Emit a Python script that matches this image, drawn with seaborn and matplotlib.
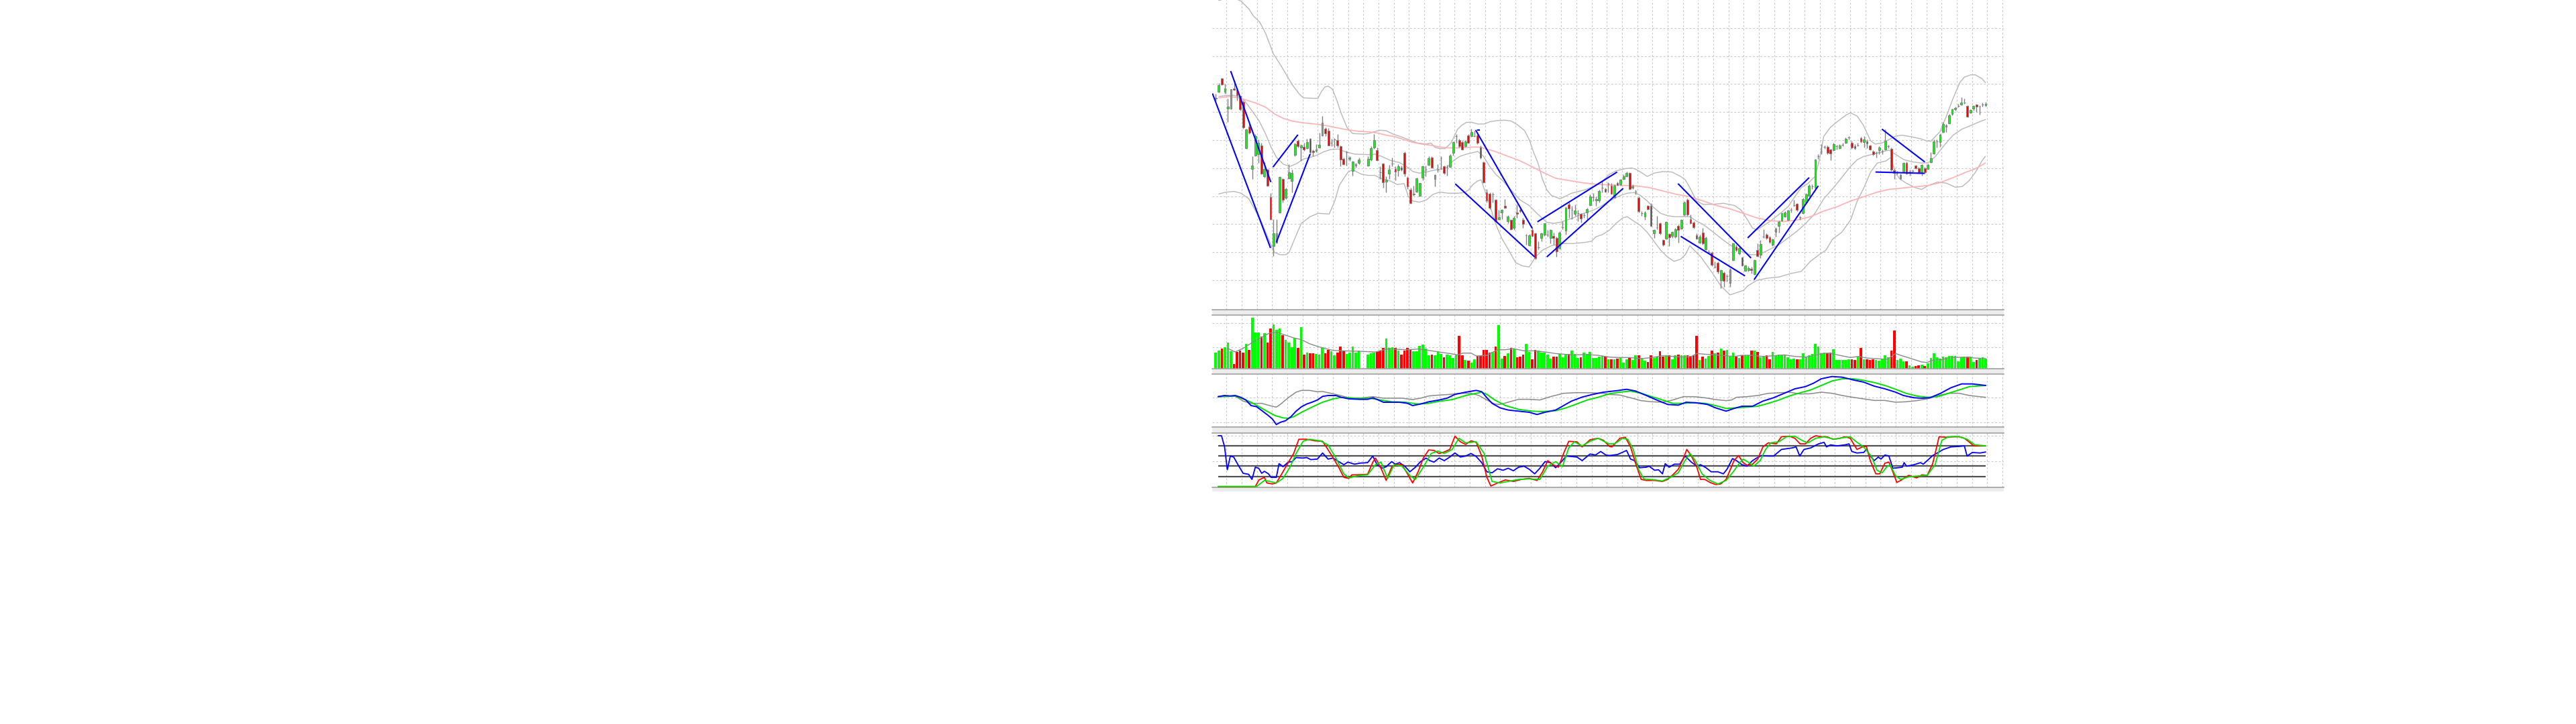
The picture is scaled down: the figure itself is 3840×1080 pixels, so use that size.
import numpy as np
import matplotlib
matplotlib.use("Agg")
import matplotlib.pyplot as plt
import seaborn as sns
from matplotlib.patches import Rectangle

# ---- candles (one per bar, nan = no bar) ----
opens = [
    1.960, 1.988, 2.048, 1.988, 1.914, 1.915, 2.005, 1.997, 1.970, 1.945, 1.738, 1.834,
    1.644, 1.705, 1.710, 1.748, 1.610, 1.640, 1.518, 1.300, 1.315, 1.450, 1.600, 1.515,
    1.603, 1.590, 1.708, 1.770, 1.740, 1.742, 1.738, 1.780, 1.724, 1.725, 1.740, 1.795,
    1.825, 1.815, 1.761, 1.776, 1.772, 1.745, 1.690, 1.718, 1.688, 1.635, 1.660, 1.672,
    np.nan, np.nan, 1.660, 1.685, 1.740, 1.727, 1.630, 1.667, 1.587, 1.622, 1.667, 1.645,
    1.638, 1.650, 1.717, 1.605, 1.552, 1.530, 1.542, 1.524, 1.605, 1.640, 1.663, 1.695,
    1.600, 1.640, 1.692, 1.657, 1.652, 1.652, 1.715, 1.792, 1.773, 1.765, 1.745, 1.793,
    1.792, 1.790, 1.795, 1.740, 1.673, 1.538, 1.532, 1.530, 1.505, 1.418, 1.448, 1.480,
    1.410, 1.415, 1.380, 1.450, 1.462, 1.417, 1.347, 1.302, 1.370, 1.355, 1.292, 1.335,
    1.350, 1.350, 1.335, 1.345, 1.335, 1.290, 1.382, 1.368, 1.485, 1.460, 1.442, 1.445,
    1.442, 1.438, 1.450, 1.482, 1.517, 1.502, 1.502, 1.560, 1.555, 1.578, 1.568, 1.518,
    1.582, 1.575, 1.600, 1.610, 1.627, 1.560, 1.542, 1.515, 1.445, 1.430, 1.478, 1.480,
    1.355, 1.382, 1.402, 1.325, 1.332, 1.352, 1.345, 1.340, 1.390, 1.378, 1.440, 1.507,
    1.420, 1.405, 1.348, 1.315, 1.358, 1.285, 1.272, 1.270, 1.205, 1.225, 1.145, 1.178,
    1.165, 1.135, 1.235, 1.297, 1.265, 1.248, 1.188, 1.190, 1.198, 1.172, 1.282, 1.260,
    1.342, 1.350, 1.337, 1.305, 1.362, 1.388, 1.412, 1.432, 1.415, 1.460, 1.482, 1.487,
    1.428, 1.445, 1.495, 1.525, 1.565, 1.560, 1.700, 1.723, 1.742, 1.742, 1.732, 1.728,
    1.745, 1.737, 1.752, 1.760, 1.785, 1.760, 1.745, 1.750, 1.782, 1.765, 1.768, 1.748,
    1.722, 1.715, 1.727, 1.722, 1.732, 1.745, 1.735, 1.638, 1.628, 1.603, 1.632, 1.672,
    1.632, 1.635, 1.658, 1.648, 1.628, 1.648, 1.645, 1.675, 1.712, 1.768, 1.765, 1.810,
    1.832, 1.848, 1.890, 1.910, 1.925, 1.932, 1.942, 1.925, 1.895, 1.915, 1.932, 1.922,
    1.932, 1.928,
]
highs = [
    1.980, 2.028, 2.052, 2.025, 1.960, 2.002, 2.040, 2.002, 1.972, 1.950, 1.825, 1.845,
    1.702, 1.800, 1.775, 1.760, 1.675, 1.645, 1.535, 1.420, 1.420, 1.610, 1.602, 1.560,
    1.665, 1.640, 1.760, 1.775, 1.755, 1.760, 1.780, 1.782, 1.730, 1.755, 1.805, 1.880,
    1.830, 1.828, 1.780, 1.782, 1.800, 1.750, 1.695, 1.725, 1.700, 1.680, 1.670, 1.695,
    np.nan, np.nan, 1.700, 1.745, 1.800, 1.740, 1.655, 1.672, 1.610, 1.663, 1.695, 1.655,
    1.665, 1.660, 1.722, 1.610, 1.560, 1.570, 1.605, 1.582, 1.660, 1.660, 1.700, 1.700,
    1.620, 1.665, 1.700, 1.660, 1.662, 1.710, 1.768, 1.800, 1.778, 1.770, 1.772, 1.800,
    1.825, 1.815, 1.800, 1.750, 1.678, 1.555, 1.538, 1.540, 1.510, 1.460, 1.465, 1.510,
    1.438, 1.420, 1.435, 1.485, 1.475, 1.425, 1.352, 1.352, 1.380, 1.360, 1.320, 1.360,
    1.402, 1.370, 1.375, 1.360, 1.340, 1.365, 1.410, 1.475, 1.495, 1.480, 1.485, 1.460,
    1.445, 1.445, 1.470, 1.530, 1.535, 1.520, 1.550, 1.590, 1.560, 1.585, 1.582, 1.575,
    1.588, 1.600, 1.620, 1.632, 1.630, 1.575, 1.552, 1.520, 1.455, 1.455, 1.482, 1.490,
    1.375, 1.435, 1.405, 1.330, 1.410, 1.355, 1.365, 1.380, 1.395, 1.420, 1.500, 1.512,
    1.440, 1.410, 1.355, 1.350, 1.380, 1.340, 1.280, 1.275, 1.230, 1.230, 1.195, 1.185,
    1.172, 1.200, 1.315, 1.305, 1.300, 1.252, 1.215, 1.210, 1.205, 1.240, 1.310, 1.325,
    1.375, 1.355, 1.345, 1.332, 1.382, 1.412, 1.450, 1.455, 1.460, 1.470, 1.505, 1.492,
    1.435, 1.515, 1.535, 1.575, 1.575, 1.688, 1.710, 1.755, 1.750, 1.750, 1.735, 1.760,
    1.752, 1.755, 1.760, 1.785, 1.790, 1.770, 1.755, 1.760, 1.788, 1.790, 1.775, 1.752,
    1.728, 1.722, 1.745, 1.730, 1.820, 1.752, 1.740, 1.645, 1.635, 1.622, 1.675, 1.678,
    1.640, 1.642, 1.662, 1.652, 1.665, 1.652, 1.668, 1.720, 1.775, 1.775, 1.802, 1.855,
    1.845, 1.890, 1.915, 1.922, 1.935, 1.965, 1.960, 1.930, 1.912, 1.930, 1.935, 1.928,
    1.940, 1.945,
]
lows = [
    1.950, 1.985, 2.020, 1.980, 1.855, 1.912, 1.995, 1.950, 1.905, 1.825, 1.735, 1.800,
    1.600, 1.700, 1.670, 1.620, 1.605, 1.565, 1.415, 1.255, 1.310, 1.445, 1.495, 1.510,
    1.600, 1.540, 1.700, 1.740, 1.680, 1.725, 1.735, 1.710, 1.700, 1.720, 1.738, 1.790,
    1.790, 1.748, 1.745, 1.740, 1.740, 1.655, 1.662, 1.660, 1.680, 1.615, 1.650, 1.665,
    np.nan, np.nan, 1.655, 1.680, 1.735, 1.680, 1.600, 1.560, 1.540, 1.600, 1.655, 1.592,
    1.610, 1.635, 1.610, 1.555, 1.488, 1.525, 1.540, 1.520, 1.592, 1.610, 1.660, 1.648,
    1.565, 1.630, 1.640, 1.620, 1.615, 1.650, 1.705, 1.760, 1.740, 1.728, 1.742, 1.758,
    1.788, 1.788, 1.755, 1.690, 1.580, 1.495, 1.465, 1.495, 1.405, 1.415, 1.420, 1.468,
    1.400, 1.370, 1.372, 1.425, 1.450, 1.380, 1.305, 1.300, 1.340, 1.240, 1.285, 1.320,
    1.345, 1.340, 1.310, 1.305, 1.250, 1.285, 1.375, 1.350, 1.425, 1.420, 1.435, 1.410,
    1.405, 1.425, 1.420, 1.480, 1.500, 1.480, 1.495, 1.540, 1.538, 1.540, 1.530, 1.512,
    1.568, 1.570, 1.595, 1.608, 1.550, 1.555, 1.530, 1.450, 1.435, 1.415, 1.460, 1.385,
    1.335, 1.375, 1.350, 1.300, 1.330, 1.300, 1.335, 1.335, 1.315, 1.375, 1.435, 1.435,
    1.400, 1.378, 1.330, 1.310, 1.305, 1.280, 1.265, 1.210, 1.200, 1.175, 1.110, 1.115,
    1.140, 1.115, 1.232, 1.275, 1.260, 1.208, 1.185, 1.185, 1.175, 1.170, 1.250, 1.245,
    1.335, 1.330, 1.310, 1.300, 1.340, 1.360, 1.410, 1.428, 1.412, 1.450, 1.475, 1.455,
    1.415, 1.442, 1.490, 1.520, 1.555, 1.555, 1.688, 1.710, 1.735, 1.710, 1.682, 1.725,
    1.732, 1.735, 1.745, 1.758, 1.775, 1.735, 1.730, 1.745, 1.760, 1.740, 1.738, 1.728,
    1.705, 1.695, 1.710, 1.710, 1.728, 1.738, 1.635, 1.600, 1.620, 1.595, 1.628, 1.620,
    1.615, 1.628, 1.644, 1.624, 1.615, 1.622, 1.640, 1.670, 1.710, 1.740, 1.742, 1.805,
    1.810, 1.845, 1.885, 1.905, 1.920, 1.928, 1.935, 1.875, 1.892, 1.905, 1.900, 1.888,
    1.922, 1.922,
]
closes = [
    1.962, 2.020, 2.022, 2.003, 1.924, 2.000, 1.998, 1.975, 1.910, 1.830, 1.820, 1.805,
    1.660, 1.790, 1.760, 1.622, 1.645, 1.570, 1.420, 1.355, 1.355, 1.608, 1.507, 1.555,
    1.630, 1.627, 1.755, 1.745, 1.750, 1.730, 1.765, 1.720, 1.718, 1.732, 1.752, 1.852,
    1.802, 1.750, 1.762, 1.776, 1.750, 1.685, 1.665, 1.718, 1.695, 1.678, 1.666, 1.687,
    np.nan, np.nan, 1.690, 1.738, 1.772, 1.682, 1.628, 1.585, 1.595, 1.640, 1.668, 1.632,
    1.655, 1.642, 1.622, 1.565, 1.492, 1.532, 1.603, 1.580, 1.655, 1.640, 1.693, 1.650,
    1.618, 1.641, 1.692, 1.627, 1.652, 1.705, 1.763, 1.792, 1.745, 1.732, 1.768, 1.760,
    1.810, 1.790, 1.760, 1.695, 1.585, 1.502, 1.470, 1.530, 1.410, 1.428, 1.462, 1.470,
    1.432, 1.375, 1.425, 1.442, 1.455, 1.397, 1.347, 1.348, 1.345, 1.245, 1.292, 1.355,
    1.400, 1.350, 1.370, 1.335, 1.275, 1.360, 1.383, 1.470, 1.468, 1.460, 1.457, 1.445,
    1.422, 1.438, 1.465, 1.520, 1.517, 1.510, 1.545, 1.560, 1.542, 1.578, 1.532, 1.568,
    1.572, 1.595, 1.610, 1.627, 1.555, 1.567, 1.542, 1.455, 1.445, 1.450, 1.465, 1.388,
    1.370, 1.382, 1.355, 1.305, 1.407, 1.338, 1.362, 1.375, 1.372, 1.415, 1.495, 1.440,
    1.402, 1.382, 1.332, 1.342, 1.310, 1.335, 1.272, 1.215, 1.205, 1.185, 1.190, 1.142,
    1.165, 1.195, 1.312, 1.282, 1.290, 1.212, 1.212, 1.200, 1.190, 1.235, 1.255, 1.308,
    1.342, 1.335, 1.318, 1.328, 1.378, 1.407, 1.445, 1.448, 1.457, 1.460, 1.482, 1.460,
    1.428, 1.510, 1.530, 1.570, 1.565, 1.685, 1.700, 1.723, 1.742, 1.715, 1.712, 1.755,
    1.745, 1.750, 1.752, 1.780, 1.785, 1.740, 1.738, 1.750, 1.768, 1.777, 1.758, 1.732,
    1.710, 1.715, 1.740, 1.722, 1.770, 1.745, 1.642, 1.625, 1.628, 1.617, 1.670, 1.622,
    1.632, 1.635, 1.648, 1.628, 1.662, 1.628, 1.662, 1.692, 1.768, 1.768, 1.798, 1.845,
    1.840, 1.885, 1.912, 1.918, 1.925, 1.942, 1.942, 1.878, 1.907, 1.925, 1.922, 1.922,
    1.932, 1.935,
]
volume = [
    730, 800, 900, 950, 1170, 780, 200, 750, 820, 720, 1120, 850,
    2270, 1620, 1620, 1450, 1600, 1170, 1800, 1970, 1750, 1800, 1500, 1300,
    1170, 970, 1380, 930, 1850, 630, 720, 700, 700, 650, 630, 950,
    680, 850, 780, 600, 730, 1000, 800, 650, 720, 1000, 720, 800,
    0, 0, 630, 680, 720, 750, 800, 930, 1350, 920, 970, 920,
    800, 630, 800, 920, 870, 770, 780, 1030, 1070, 900, 600, 620,
    600, 780, 650, 520, 630, 600, 480, 630, 1470, 600, 400, 370,
    270, 420, 580, 580, 850, 850, 720, 750, 980, 1950, 450, 570,
    680, 930, 900, 520, 550, 620, 1100, 750, 420, 850, 800, 730,
    720, 620, 450, 550, 550, 670, 520, 650, 670, 820, 670, 480,
    500, 720, 670, 750, 480, 480, 550, 570, 550, 420, 420, 420,
    450, 500, 280, 420, 480, 380, 600, 600, 480, 350, 300, 600,
    480, 530, 770, 550, 600, 600, 430, 600, 620, 600, 600, 600,
    570, 600, 1480, 380, 550, 450, 570, 800, 700, 720, 900, 820,
    850, 550, 720, 550, 480, 600, 600, 600, 800, 820, 750, 500,
    550, 600, 420, 750, 600, 630, 630, 600, 520, 420, 440, 420,
    420, 680, 520, 600, 650, 1100, 1000, 700, 720, 700, 720, 880,
    380, 400, 400, 380, 420, 420, 380, 550, 930, 420, 420, 400,
    420, 400, 370, 420, 600, 520, 820, 1700, 380, 450, 320, 320,
    150, 100, 120, 150, 180, 120, 250, 480, 680, 520, 450, 550,
    500, 570, 570, 570, 320, 500, 500, 550, 550, 300, 380, 450,
    520, 450,
]

# ---- overlays: (bar, price) ----
bb_upper = [
    (1, 2.398), (4, 2.408), (7, 2.403), (8.3, 2.395), (10.9, 2.360), (12.3, 2.330), (14.5, 2.300),
    (16.4, 2.250), (17.8, 2.200), (18.9, 2.160), (20.8, 2.120), (23, 2.070), (25.2, 2.020),
    (27.4, 1.980), (28.8, 1.962), (31.8, 1.960), (33.6, 1.960), (34.7, 1.990), (35.8, 2.010),
    (36.9, 2.015), (38.4, 2.000), (39.8, 1.950), (41.3, 1.890), (43.1, 1.830), (45, 1.802),
    (48.6, 1.800), (50.1, 1.802), (53.8, 1.817), (56, 1.815), (58.2, 1.800), (60.4, 1.790),
    (63.3, 1.775), (66.3, 1.760), (69.2, 1.755), (70.7, 1.760), (72.1, 1.740), (73.6, 1.735),
    (75.4, 1.735), (77.3, 1.760), (78.4, 1.790), (79.4, 1.820), (80.9, 1.840), (82.4, 1.852),
    (83.9, 1.853), (86.1, 1.845), (88.3, 1.845), (90.1, 1.855), (92.3, 1.860), (94.9, 1.862),
    (97.1, 1.858), (99.3, 1.840), (101.5, 1.815), (103, 1.775), (104.4, 1.720), (105.9, 1.670),
    (107.3, 1.600), (108.8, 1.550), (110.3, 1.525), (113.2, 1.510), (116.9, 1.535), (121.3, 1.550),
    (124.9, 1.570), (127.2, 1.590), (129.4, 1.620), (131.5, 1.635), (134.5, 1.645), (136.7, 1.648),
    (138.1, 1.642), (139.6, 1.630), (141.8, 1.610), (144, 1.625), (146.9, 1.632), (149.9, 1.630),
    (152.8, 1.610), (154.3, 1.595), (155.8, 1.560), (158, 1.500), (160.2, 1.485), (163.1, 1.485),
    (166.8, 1.490), (170.5, 1.480), (172.6, 1.460), (174.8, 1.415), (176.3, 1.380), (177.8, 1.370),
    (180, 1.390), (182.2, 1.410), (185.1, 1.440), (188.1, 1.475), (190.3, 1.520), (192.4, 1.560),
    (194.7, 1.580), (196.9, 1.610), (198.3, 1.680), (199.8, 1.790), (202, 1.830), (204.2, 1.855),
    (207.1, 1.885), (208.6, 1.895), (210.8, 1.880), (212.8, 1.840), (215.2, 1.770), (216.7, 1.755),
    (218.9, 1.760), (221.2, 1.775), (223.3, 1.790), (225.5, 1.795), (228.4, 1.788), (231.3, 1.780),
    (233.5, 1.770), (235, 1.768), (236.5, 1.790), (238, 1.810), (240.1, 1.880), (242.3, 1.960),
    (244.5, 2.030), (246, 2.055), (248.1, 2.065), (249.6, 2.065), (251.8, 2.048), (252.9, 2.030),
]
bb_middle = [
    (1, 1.968), (3.2, 1.972), (5.4, 1.974), (7.6, 1.968), (9.4, 1.950), (11.6, 1.910), (14.2, 1.860),
    (16.4, 1.800), (18.2, 1.740), (20, 1.695), (22.2, 1.665), (24.4, 1.655), (26.6, 1.668),
    (28.8, 1.688), (31, 1.695), (33.2, 1.705), (35.4, 1.720), (37.6, 1.730), (40.2, 1.733),
    (42.8, 1.720), (45.7, 1.710), (50.1, 1.708), (52.3, 1.710), (54.5, 1.700), (57.4, 1.682),
    (60.4, 1.672), (62.6, 1.655), (64.8, 1.632), (66.9, 1.625), (69.2, 1.630), (71.4, 1.637),
    (73.6, 1.642), (75.8, 1.648), (78, 1.680), (80.2, 1.700), (82.4, 1.710), (84.6, 1.717),
    (86.1, 1.722), (88, 1.700), (90, 1.655), (92, 1.620), (94, 1.595), (97, 1.550), (100, 1.505),
    (103, 1.480), (105.9, 1.440), (108.8, 1.405), (111, 1.400), (113.2, 1.405), (115.4, 1.415),
    (117.6, 1.425), (119.8, 1.440), (122, 1.450), (124.2, 1.460), (126.4, 1.475), (128.6, 1.495),
    (130.8, 1.510), (133, 1.525), (135.2, 1.535), (137.4, 1.538), (139.6, 1.525), (141.8, 1.500),
    (144, 1.470), (146.2, 1.445), (148.4, 1.435), (150.6, 1.430), (152.8, 1.430), (155.8, 1.430),
    (158, 1.410), (160.2, 1.395), (163.1, 1.365), (166.8, 1.325), (170.5, 1.290), (173.5, 1.270),
    (175.7, 1.260), (177.8, 1.260), (180, 1.270), (182.2, 1.285), (185.1, 1.305), (188.1, 1.335),
    (191, 1.365), (193.9, 1.400), (196.9, 1.445), (199.8, 1.510), (202.7, 1.555), (205.7, 1.605),
    (208.6, 1.655), (210.8, 1.685), (213, 1.700), (216, 1.710), (218.9, 1.720), (221.2, 1.728),
    (223.3, 1.710), (226.2, 1.685), (229.1, 1.675), (232, 1.670), (234.2, 1.672), (236.5, 1.700),
    (239.4, 1.750), (242.3, 1.795), (245.2, 1.822), (248.1, 1.838), (251, 1.855), (252.9, 1.865),
]
bb_lower = [
    (1, 1.532), (3.5, 1.540), (6.1, 1.543), (8.3, 1.535), (10.9, 1.510), (12.7, 1.465), (14.9, 1.410),
    (16.7, 1.350), (18.6, 1.290), (19.3, 1.270), (21.1, 1.260), (23, 1.260), (24.1, 1.270),
    (25.9, 1.330), (28.1, 1.400), (31, 1.430), (33.6, 1.445), (37.3, 1.442), (39.1, 1.500),
    (40.6, 1.570), (42, 1.600), (43.5, 1.630), (45, 1.640), (47.9, 1.620), (50.1, 1.615),
    (52.3, 1.615), (54.5, 1.600), (57.4, 1.590), (59.6, 1.574), (61.9, 1.578), (63.3, 1.520),
    (64.8, 1.500), (66.9, 1.495), (69.2, 1.505), (71.4, 1.530), (73.6, 1.540), (76.5, 1.535),
    (79.5, 1.535), (81.7, 1.538), (83.1, 1.550), (84.6, 1.575), (86.1, 1.590), (87.2, 1.595),
    (88.2, 1.555), (90.1, 1.480), (91.9, 1.400), (94.1, 1.330), (96.3, 1.280), (98.5, 1.225),
    (100.7, 1.210), (103, 1.205), (105.1, 1.250), (107.3, 1.280), (110.3, 1.300), (113.9, 1.310),
    (117.6, 1.310), (121.3, 1.315), (123.5, 1.320), (124.9, 1.340), (127.1, 1.350), (129.4, 1.370),
    (131.5, 1.400), (133.8, 1.425), (135.2, 1.430), (137.4, 1.410), (139.6, 1.390), (141.8, 1.360),
    (144, 1.320), (146.2, 1.280), (148.4, 1.250), (150.6, 1.230), (152.8, 1.240), (154.3, 1.260),
    (155.8, 1.300), (159.4, 1.250), (163.1, 1.180), (166, 1.120), (169, 1.080), (173.4, 1.100),
    (174.8, 1.120), (177.8, 1.145), (181.4, 1.155), (185.1, 1.160), (188.8, 1.175), (192.4, 1.185),
    (195.4, 1.230), (198.3, 1.260), (200.5, 1.280), (202.7, 1.330), (205.7, 1.360), (208.6, 1.415),
    (210.8, 1.500), (213, 1.560), (215.2, 1.630), (217.4, 1.670), (220.3, 1.680), (221.8, 1.695),
    (223.3, 1.630), (224.7, 1.600), (226.9, 1.580), (229.9, 1.560), (232, 1.552), (234.2, 1.570),
    (237.2, 1.585), (240.1, 1.580), (243, 1.562), (245.3, 1.565), (247.5, 1.590), (249.7, 1.630),
    (251.8, 1.680), (252.9, 1.700),
]
slow_ma = [
    (1, 1.962), (4.6, 1.968), (7.6, 1.962), (10.5, 1.950), (13.4, 1.938), (16.4, 1.920), (19.3, 1.890),
    (22.2, 1.870), (25.2, 1.858), (28.8, 1.850), (32.5, 1.845), (36.2, 1.838), (39.8, 1.828),
    (42.8, 1.820), (47.2, 1.812), (50.1, 1.810), (53, 1.805), (56, 1.795), (58.9, 1.788),
    (61.9, 1.775), (64.8, 1.763), (67.7, 1.755), (70.7, 1.750), (73.6, 1.742), (76.5, 1.738),
    (79.5, 1.738), (82.4, 1.740), (85.3, 1.742), (87.5, 1.740), (89, 1.732), (91.2, 1.725),
    (94.1, 1.710), (97.1, 1.695), (100, 1.680), (103, 1.660), (107.3, 1.630), (111.7, 1.602),
    (116.1, 1.592), (120.5, 1.582), (124.9, 1.575), (129.4, 1.572), (133.8, 1.570), (138.1, 1.568),
    (142.6, 1.560), (147, 1.545), (151.4, 1.530), (155.8, 1.520), (160.2, 1.500), (164.6, 1.480),
    (169, 1.465), (173.4, 1.445), (177.8, 1.425), (182.2, 1.412), (186.6, 1.408), (191, 1.415),
    (195.4, 1.430), (199.8, 1.455), (204.2, 1.475), (208.6, 1.500), (213, 1.520), (217.4, 1.540),
    (221.2, 1.552), (225.5, 1.558), (229.9, 1.564), (234.2, 1.570), (237.9, 1.582), (242.3, 1.605),
    (246.7, 1.630), (249.7, 1.645), (252.9, 1.670),
]
# hand-drawn trend lines: (bar0, price0, bar1, price1)
trend_lines = [
    (-1.1, 1.982, 18.0, 1.290), (4.9, 2.082, 18.1, 1.585), (18.8, 1.652, 27.0, 1.797),
    (19.9, 1.315, 31.0, 1.710), (78.7, 1.577, 104.8, 1.250), (85.4, 1.818, 104.0, 1.378),
    (85.9, 1.817, 86.8, 1.817), (105.7, 1.407, 131.9, 1.630), (108.8, 1.250, 133.9, 1.557),
    (151.9, 1.578, 175.9, 1.245), (152.8, 1.342, 173.9, 1.165), (174.8, 1.335, 195.0, 1.605),
    (176.9, 1.148, 198.0, 1.568), (218.9, 1.822, 233.0, 1.675), (216.8, 1.630, 232.9, 1.624),
]

# ---- volume average ----
vol_ma = [
    (3.8, 920), (6.4, 750), (9.5, 950), (12.5, 1220), (15.1, 1400), (17.7, 1600), (20.3, 1620),
    (23, 1500), (25.6, 1380), (28.2, 1300), (30.8, 1120), (33.4, 1000), (36, 900), (38.6, 820),
    (42.1, 800), (47.3, 780), (52.5, 750), (56, 880), (59.5, 870), (63, 850), (66.5, 880),
    (70, 820), (73.4, 750), (76.9, 680), (79.5, 620), (81.3, 700), (83.9, 700), (85.6, 570),
    (89.1, 600), (92.6, 850), (95.2, 850), (97.8, 900), (101.3, 800), (104.8, 800), (108.2, 750),
    (111.7, 680), (116.9, 620), (122.2, 630), (125.6, 600), (129.4, 520), (132.8, 500), (136.3, 500),
    (139.8, 450), (143.3, 500), (146.8, 580), (150.2, 550), (153.7, 520), (156.3, 550), (158.1, 680),
    (160.7, 650), (164.2, 620), (167.7, 580), (170.3, 550), (172.9, 600), (176.4, 600), (179.8, 550),
    (183.3, 580), (186.8, 620), (190.3, 550), (193.8, 520), (197.2, 600), (199, 680), (201.6, 700),
    (205, 600), (208.6, 500), (211.2, 550), (213.8, 480), (217.3, 450), (220.7, 420), (223.4, 680),
    (225.1, 600), (228.6, 450), (232.1, 300), (233.8, 280), (235.6, 380), (239, 420), (242.5, 500),
    (246, 520), (249.5, 480), (253, 450),
]

# ---- MACD panel ----
macd_main = [
    (0.8, 0.003), (2.9, 0.008), (4.7, 0.006), (6.4, 0.008), (8.2, 0.000), (9.9, -0.012), (11.6, -0.037),
    (13.4, -0.042), (15.1, -0.059), (17.3, -0.082), (18.6, -0.097), (19.9, -0.122), (21.2, -0.112),
    (22.9, -0.105), (24.7, -0.087), (26.4, -0.062), (28.2, -0.042), (29.9, -0.030), (31.6, -0.022),
    (33.4, -0.012), (35.1, 0.004), (36.9, 0.008), (39.5, 0.008), (41.2, 0.000), (43.8, -0.007),
    (47.3, -0.009), (49.9, -0.009), (51.7, -0.002), (53.4, -0.012), (55.1, -0.022), (57.8, -0.022),
    (60.4, -0.022), (63, -0.027), (64.7, -0.037), (67.3, -0.030), (70, -0.020), (73.4, -0.012),
    (76, -0.004), (78.6, 0.013), (82.1, 0.023), (85.6, 0.031), (87.4, 0.025), (89.1, -0.002),
    (90.8, -0.027), (93.4, -0.047), (96.1, -0.057), (99.5, -0.062), (103, -0.067), (105.6, -0.077),
    (108.2, -0.067), (111.7, -0.057), (114.3, -0.037), (116.9, -0.017), (120.4, 0.001), (123.9, 0.013),
    (127.4, 0.023), (129.4, 0.026), (132, 0.030), (135, 0.036), (138, 0.028), (141.5, 0.008),
    (144.9, -0.012), (148.5, -0.032), (152, -0.035), (154.6, -0.022), (158.1, -0.025), (161.6, -0.032),
    (164.2, -0.047), (167.7, -0.062), (170.3, -0.050), (172.9, -0.040), (176.4, -0.040), (179.8, -0.017),
    (183.3, -0.002), (186.8, 0.018), (190.3, 0.038), (193.8, 0.048), (196.4, 0.063), (199, 0.083),
    (202.5, 0.093), (205.9, 0.090), (209.4, 0.078), (212.9, 0.068), (216.4, 0.050), (219.9, 0.038),
    (223.4, 0.023), (226, 0.008), (229.5, -0.002), (232.1, -0.004), (234.7, -0.002), (238.2, 0.018),
    (241.6, 0.043), (245.1, 0.060), (248.6, 0.060), (253, 0.053),
]
macd_signal = [
    (0.8, 0.003), (6.4, 0.005), (9, -0.007), (11.6, -0.022), (14.2, -0.042), (16.8, -0.062), (19.5, -0.082),
    (22.1, -0.092), (23.8, -0.094), (25.6, -0.087), (28.2, -0.067), (31.6, -0.044), (35.1, -0.022),
    (38.6, -0.007), (41.2, 0.000), (45.6, -0.004), (50.8, -0.005), (54.3, -0.012), (57.8, -0.020),
    (62.1, -0.022), (66.5, -0.030), (70, -0.027), (73.4, -0.018), (77.8, -0.010), (82.1, 0.008),
    (85.6, 0.018), (87.4, 0.023), (89.1, 0.013), (91.7, -0.012), (95.2, -0.037), (99.5, -0.054),
    (103.9, -0.062), (107.4, -0.064), (111.7, -0.060), (115.2, -0.047), (118.6, -0.030), (122.1, -0.012),
    (125.6, 0.000), (129.4, 0.016), (132.8, 0.023), (136.3, 0.028), (139.8, 0.018), (143.3, 0.003),
    (146.8, -0.012), (150.2, -0.027), (153.7, -0.027), (157.2, -0.024), (160.7, -0.027), (164.2, -0.037),
    (167.7, -0.050), (171.1, -0.047), (174.6, -0.044), (178.1, -0.040), (181.6, -0.027), (185.1, -0.012),
    (188.5, 0.006), (192, 0.020), (195.5, 0.033), (199, 0.053), (202.5, 0.073), (205.9, 0.083),
    (209.4, 0.083), (212.9, 0.076), (216.4, 0.066), (219.9, 0.053), (223.4, 0.036), (226.8, 0.018),
    (230.3, 0.006), (233.8, 0.000), (237.3, 0.003), (240.8, 0.018), (244.3, 0.033), (247.7, 0.048),
    (253, 0.053),
]
macd_third = [
    (0.8, 0.003), (6.4, 0.005), (9, -0.017), (11.6, -0.027), (15.1, -0.027), (17.7, -0.037), (19.9, -0.044),
    (21.2, -0.032), (23.8, -0.002), (26.4, 0.023), (28.2, 0.031), (30.8, 0.031), (33.4, 0.025),
    (35.1, 0.026), (37.8, 0.018), (40.4, 0.010), (43.8, -0.002), (47.3, -0.004), (51.7, 0.003),
    (55.1, -0.004), (58.6, -0.004), (61.2, -0.004), (64.7, -0.010), (67.3, -0.004), (70, 0.006),
    (73.4, 0.010), (76.9, 0.013), (80.4, 0.018), (83.9, 0.018), (86.5, 0.008), (89.1, -0.012),
    (91.7, -0.030), (93.4, -0.032), (96.1, -0.022), (99.5, -0.009), (103, -0.009), (106.5, -0.012),
    (110, 0.003), (114.3, 0.018), (118.6, 0.021), (123.9, 0.020), (127.4, 0.018), (129.4, 0.013),
    (132.8, 0.010), (136.3, -0.002), (139.8, -0.015), (143.3, -0.020), (146.8, -0.022), (150.2, -0.012),
    (153.7, 0.003), (157.2, 0.003), (160.7, -0.002), (164.2, -0.010), (167.7, -0.015), (169.5, -0.012),
    (171.1, 0.000), (174.6, 0.003), (178.1, 0.008), (181.6, 0.018), (185.1, 0.020), (188.5, 0.023),
    (192, 0.015), (195.5, 0.016), (199, 0.023), (202.5, 0.018), (205.9, 0.008), (209.4, 0.000),
    (212.9, -0.007), (216.4, -0.014), (219.9, -0.014), (223.4, -0.022), (226.8, -0.020), (230.3, -0.015),
    (233.8, -0.007), (237.3, 0.008), (240.8, 0.018), (244.3, 0.018), (247.7, 0.008), (253, 0.000),
]

# ---- oscillator panel ----
osc_levels = [20, 40, 60, 80]
osc_blue = [
    (0.8, 100), (1.9, 100), (2.9, 78), (3.8, 33), (4.8, 60), (5.9, 58), (7.3, 43), (9, 26), (10.8, 24),
    (11.9, 14), (13, 38), (14.1, 36), (15.1, 26), (16, 30), (17.3, 25), (18.2, 18), (19.9, 18), (20.8, 45),
    (22.1, 39), (23.8, 48), (25.1, 49), (26.4, 57), (28.6, 56), (29.9, 57), (31.2, 53), (33.4, 54),
    (35.1, 66), (36.9, 54), (38.6, 56), (40.4, 49), (42.1, 43), (43.4, 48), (45.6, 44), (47.3, 46),
    (49.9, 47), (51.6, 60), (53, 43), (54.7, 36), (56, 39), (57.8, 49), (59, 44), (60.4, 47), (62.1, 40),
    (63.8, 29), (65.6, 38), (67.3, 49), (69.1, 56), (70.4, 51), (71.7, 48), (73.4, 56), (75.1, 51),
    (76.9, 58), (78.6, 66), (80.4, 58), (82.1, 60), (83.9, 65), (85.6, 59), (87.4, 47), (89.1, 29),
    (90.8, 27), (92.6, 35), (94.4, 32), (96.1, 36), (97.8, 31), (99.5, 38), (101.3, 40), (103, 34),
    (104.8, 25), (106.5, 36), (108.2, 49), (110, 47), (111.7, 37), (113.5, 48), (115.2, 60), (118.7, 58),
    (120.4, 51), (123, 64), (124.8, 62), (126.5, 69), (128.2, 62), (129.4, 61), (132, 63), (135, 71),
    (136.3, 54), (137.6, 51), (139.3, 37), (141.5, 38), (142.4, 40), (144.2, 32), (145.5, 33), (146.8, 25),
    (147.7, 45), (149, 38), (150.7, 44), (152.5, 44), (154.2, 60), (156.3, 48), (158.1, 40), (159.3, 43),
    (161.1, 37), (162.8, 29), (165, 29), (166.8, 25), (168, 34), (169.8, 55), (171.1, 51), (172.9, 43),
    (174.6, 40), (176.4, 51), (177.7, 56), (179.4, 61), (181.6, 60), (183.3, 60), (185.9, 73), (189.4, 76),
    (190.7, 78), (191.9, 60), (193.3, 73), (195.5, 76), (198.1, 84), (199.9, 87), (200.7, 78), (202, 82),
    (204.2, 80), (206.8, 82), (208.1, 84), (209, 69), (210.7, 66), (212.9, 67), (213.8, 73), (215.1, 60),
    (216.4, 51), (217.7, 58), (218.6, 54), (219.9, 62), (221.2, 60), (222.5, 36), (224.2, 37), (225.6, 38),
    (226.2, 47), (227, 40), (229.5, 43), (231.6, 47), (232.5, 44), (233.8, 51), (235.6, 61), (237.4, 67),
    (239.1, 73), (241.6, 78), (244.3, 79), (246, 80), (246.9, 60), (248.6, 67), (251.2, 66), (253, 68),
]
osc_red = [
    (0.8, 0), (13, 0), (14.2, 13), (16, 18), (16.8, 7), (18.6, 5), (19.9, 7), (21.7, 25), (23.8, 47),
    (25.6, 65), (27.3, 93), (29.9, 93), (32.5, 90), (35.1, 89), (37.7, 65), (40.4, 38), (42.1, 18),
    (43.8, 16), (44.7, 23), (46.4, 23), (49.9, 24), (51.7, 49), (52.5, 56), (54.3, 36), (56, 12),
    (57.8, 38), (59.5, 44), (61.2, 43), (63, 25), (64.7, 7), (66.5, 29), (68.2, 56), (70, 72), (71.7, 71),
    (73.4, 65), (75.1, 68), (76.9, 73), (78.6, 99), (80.4, 88), (82.1, 83), (83.9, 90), (85.6, 87),
    (87.4, 60), (89.1, 18), (90.4, 1), (92.6, 7), (95.2, 13), (97.8, 10), (100.4, 14), (103, 16),
    (105.6, 12), (107.4, 29), (109.1, 51), (110.8, 43), (112.6, 38), (114.3, 65), (116, 89), (118.7, 88),
    (120.4, 78), (123, 92), (125.6, 95), (127.4, 91), (129.4, 79), (130.2, 78), (132.8, 95), (134.6, 97),
    (136.3, 78), (138.1, 43), (139.8, 14), (141.5, 12), (144.2, 12), (146.8, 10), (148.5, 14), (150.2, 23),
    (152, 34), (153.7, 56), (154.8, 73), (156.3, 60), (158.1, 38), (159.3, 14), (160.7, 14), (162.4, 8),
    (164.2, 4), (165.9, 5), (167.7, 14), (169.5, 39), (170.3, 51), (171.8, 61), (173.3, 47), (174.6, 42),
    (176.4, 44), (178.1, 54), (179.8, 78), (181.6, 86), (184.2, 84), (185.9, 98), (188.5, 99), (190.3, 95),
    (192, 84), (193.8, 84), (195.5, 95), (197.2, 100), (199, 98), (200.7, 98), (202.9, 93), (205.1, 95),
    (206.8, 98), (208.5, 95), (210.7, 73), (212.5, 78), (213.8, 79), (215.1, 51), (216.9, 25), (218.2, 25),
    (219.9, 46), (221.2, 48), (222.5, 29), (223.8, 8), (225.1, 12), (227.7, 22), (230.3, 17), (232.1, 23),
    (233.8, 22), (235.6, 45), (237.7, 98), (239.9, 97), (242.5, 98), (244.3, 98), (246, 95), (247.7, 87),
    (249.1, 80), (251.2, 80), (253, 80),
]
osc_green = [
    (0.8, 0), (13.4, 0), (16, 12), (17.8, 10), (19.9, 7), (22.1, 16), (24.4, 38), (26.4, 65), (28.7, 89),
    (30.8, 93), (34.3, 90), (36.9, 82), (39.5, 56), (42.1, 25), (43.8, 17), (47.3, 22), (49.9, 23),
    (52.5, 43), (54.3, 48), (56.5, 16), (58.6, 43), (61.2, 40), (63.9, 21), (65.6, 14), (68.2, 38),
    (70.8, 65), (73, 70), (75.1, 65), (77.7, 73), (79.9, 95), (82.1, 86), (85.6, 88), (88.2, 65),
    (90.8, 10), (93.4, 7), (96.1, 10), (99.5, 14), (103, 15), (106.5, 14), (109.1, 40), (111.7, 49),
    (113.9, 39), (116, 76), (117.8, 88), (120.4, 80), (123, 89), (125.6, 95), (129.2, 84), (131.1, 84),
    (133.7, 95), (135.4, 93), (137.2, 73), (138.9, 34), (140.7, 15), (144.2, 13), (146.8, 11), (149.4, 18),
    (152, 27), (154.2, 51), (155.9, 65), (157.6, 51), (159.8, 25), (162.4, 12), (165, 5), (167.7, 12),
    (169.8, 27), (172, 45), (173.3, 54), (175, 48), (176.8, 40), (178.9, 51), (180.7, 73), (182.4, 86),
    (185, 88), (187.6, 98), (190.3, 99), (192.9, 90), (194.6, 86), (197.2, 95), (199.9, 98), (203.3, 93),
    (205.9, 96), (208.5, 98), (210.3, 89), (212.9, 78), (215.6, 58), (217.3, 32), (219, 27), (220.4, 38),
    (221.6, 43), (223.4, 21), (225.1, 14), (227.7, 19), (231.2, 21), (233.8, 22), (236.4, 43), (238.6, 91),
    (240.8, 98), (244.3, 98), (246.9, 93), (249.5, 82), (253, 80),
]

# ---- styling ----
sns.set_style("white")
plt.rcParams['font.family'] = ['DejaVu Sans']

UP, DOWN, DOJI = "#00ff00", "#ff0000", "#8c8c8c"
EDGE = "#808080"
GRID = "#c8c8c8"
SPINE = "#a0a0a0"
STRIP = "#ececec"

o, h, l, c = (np.array(a, dtype=float) for a in (opens, highs, lows, closes))
vol = np.array(volume, dtype=float)
bars = np.arange(len(o))
ok = ~np.isnan(o)

fig = plt.figure(figsize=(38.4, 10.8), dpi=100)
fig.patch.set_facecolor("white")

left, width = 0.4705, 0.3073
ax_p = fig.add_axes([left, 0.5725, width, 0.4275])
ax_v = fig.add_axes([left, 0.4907, width, 0.0741])
ax_m = fig.add_axes([left, 0.4099, width, 0.0731])
ax_s = fig.add_axes([left, 0.3271, width, 0.0750])

# light grey separators under each panel
for y0, y1 in [(0.5648, 0.5725), (0.4831, 0.4907), (0.4021, 0.4099), (0.3210, 0.3271)]:
    fig.add_artist(Rectangle((left, y0), width, y1 - y0, transform=fig.transFigure,
                             facecolor=STRIP, edgecolor="none", zorder=0))

grid_x = np.arange(3.5, 259, 5)
for ax in (ax_p, ax_v, ax_m, ax_s):
    ax.set_xlim(-1.23, 258.9)
    ax.set_facecolor("white")
    ax.set_xticks(grid_x)
    ax.tick_params(length=0, labelleft=False, labelbottom=False)
    ax.grid(True, color=GRID, linestyle=(0, (2.5, 2.5)), linewidth=0.8)
    ax.set_axisbelow(True)
    for side in ("left", "right"):
        ax.spines[side].set_visible(False)
    for side in ("top", "bottom"):
        ax.spines[side].set_color(SPINE)
        ax.spines[side].set_linewidth(1.2)
ax_p.spines["top"].set_visible(False)

# ---- price panel ----
ax_p.set_ylim(1.0145, 2.4)
ax_p.set_yticks(2.4 - 0.1254 * np.arange(1, 11))

for pts, col, lw in [(bb_upper, "#b8b8b8", 1.0), (bb_middle, "#b8b8b8", 1.0),
                     (bb_lower, "#b8b8b8", 1.0), (slow_ma, "#ffb0b0", 1.2)]:
    xs, ys = np.array(pts).T
    sns.lineplot(x=xs, y=ys, ax=ax_p, color=col, linewidth=lw, sort=False,
                 estimator=None, legend=False, zorder=2)

body_col = np.where(c > o, UP, np.where(c < o, DOWN, DOJI))
ax_p.vlines(bars[ok], l[ok], h[ok], color=EDGE, linewidth=1.0, zorder=3)
ax_p.bar(bars[ok], np.abs(c - o)[ok], bottom=np.minimum(o, c)[ok], width=0.62,
         color=body_col[ok], edgecolor=EDGE, linewidth=0.7, zorder=4)

for x0, y0, x1, y1 in trend_lines:
    ax_p.plot([x0, x1], [y0, y1], color="#0000ff", linewidth=1.5, zorder=5,
              solid_capstyle="butt")

# ---- volume panel ----
ax_v.set_ylim(0, 2400)
ax_v.set_yticks([950, 2050])
vol_col = np.where(c >= o, UP, DOWN)
ax_v.bar(bars[ok], vol[ok], width=0.8, color=vol_col[ok], linewidth=0, zorder=2)
xs, ys = np.array(vol_ma).T
sns.lineplot(x=xs, y=ys, ax=ax_v, color="#8a8a8a", linewidth=1.0, sort=False,
             estimator=None, legend=False, zorder=3)

# ---- MACD panel ----
ax_m.set_ylim(-0.134, 0.103)
ax_m.set_yticks([-0.112, 0.0])
for pts, col, lw in [(macd_third, "#8a8a8a", 1.1), (macd_signal, "#00e000", 1.4),
                     (macd_main, "#0000ff", 1.4)]:
    xs, ys = np.array(pts).T
    sns.lineplot(x=xs, y=ys, ax=ax_m, color=col, linewidth=lw, sort=False,
                 estimator=None, legend=False, zorder=3)

# ---- oscillator panel ----
ax_s.set_ylim(-1.3, 105.6)
ax_s.set_yticks([50, 100])
ax_s.hlines(osc_levels, bars[0] + 0.8, bars[-1], color="#505050", linewidth=1.6, zorder=2)
for pts, col, lw in [(osc_blue, "#0000ff", 1.3), (osc_red, "#ff0000", 1.3),
                     (osc_green, "#00e000", 1.3)]:
    xs, ys = np.array(pts).T
    sns.lineplot(x=xs, y=ys, ax=ax_s, color=col, linewidth=lw, sort=False,
                 estimator=None, legend=False, zorder=3)

fig.savefig("out.png", dpi=100, facecolor="white")
